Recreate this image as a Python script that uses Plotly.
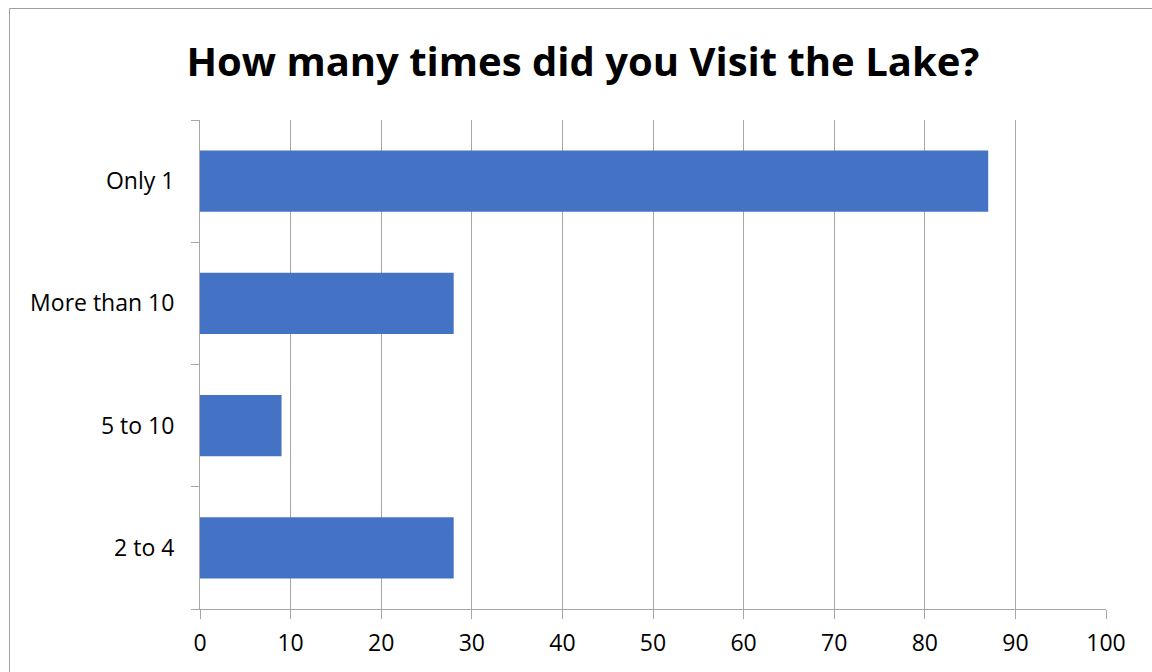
import plotly.graph_objects as go

categories = ["2 to 4", "5 to 10", "More than 10", "Only 1"]
values = [28, 9, 28, 87]
x_ticks = [0, 10, 20, 30, 40, 50, 60, 70, 80, 90, 100]

GRID = "#A6A6A6"
FONT = "Open Sans"

fig = go.Figure(go.Bar(
    x=values, y=categories, orientation="h",
    marker=dict(color="#4472C4", line=dict(width=0)),
    width=0.5,
))

fig.update_layout(
    width=1152, height=672,
    margin=dict(l=200, r=46, t=120, b=63),
    paper_bgcolor="white", plot_bgcolor="white",
    showlegend=False,
    title=dict(text="<b>How many times did you Visit the Lake?</b>",
               x=0.506, xanchor="center", y=0.908, yanchor="middle",
               font=dict(family="Open Sans", size=40, color="black")),
    font=dict(family=FONT, size=23, color="black"),
    bargap=0.5,
)
fig.update_xaxes(
    range=[0, 100], tickvals=x_ticks, showgrid=True, gridcolor=GRID, gridwidth=1,
    showline=True, linecolor=GRID, linewidth=1,
    ticks="outside", ticklen=9, tickcolor=GRID, tickwidth=1,
    zeroline=False, ticklabelstandoff=4,
    tickfont=dict(family=FONT, size=23, color="black"),
)
fig.update_yaxes(
    categoryorder="array", categoryarray=categories,
    showgrid=False, showline=True, linecolor=GRID, linewidth=1,
    ticks="outside", ticklen=8, tickcolor=GRID, tickwidth=1, tickson="boundaries",
    ticklabelstandoff=20,
    tickfont=dict(family=FONT, size=23, color="black"),
    range=[-0.5, 3.5],
)
fig.add_shape(type="rect", xref="paper", yref="paper",
              x0=(9.5 - 200) / 906, x1=1.2, y0=-0.3, y1=(609 - 8.5) / 489,
              line=dict(color="#A0A0A0", width=1), layer="below")

fig.write_html("out.html")
